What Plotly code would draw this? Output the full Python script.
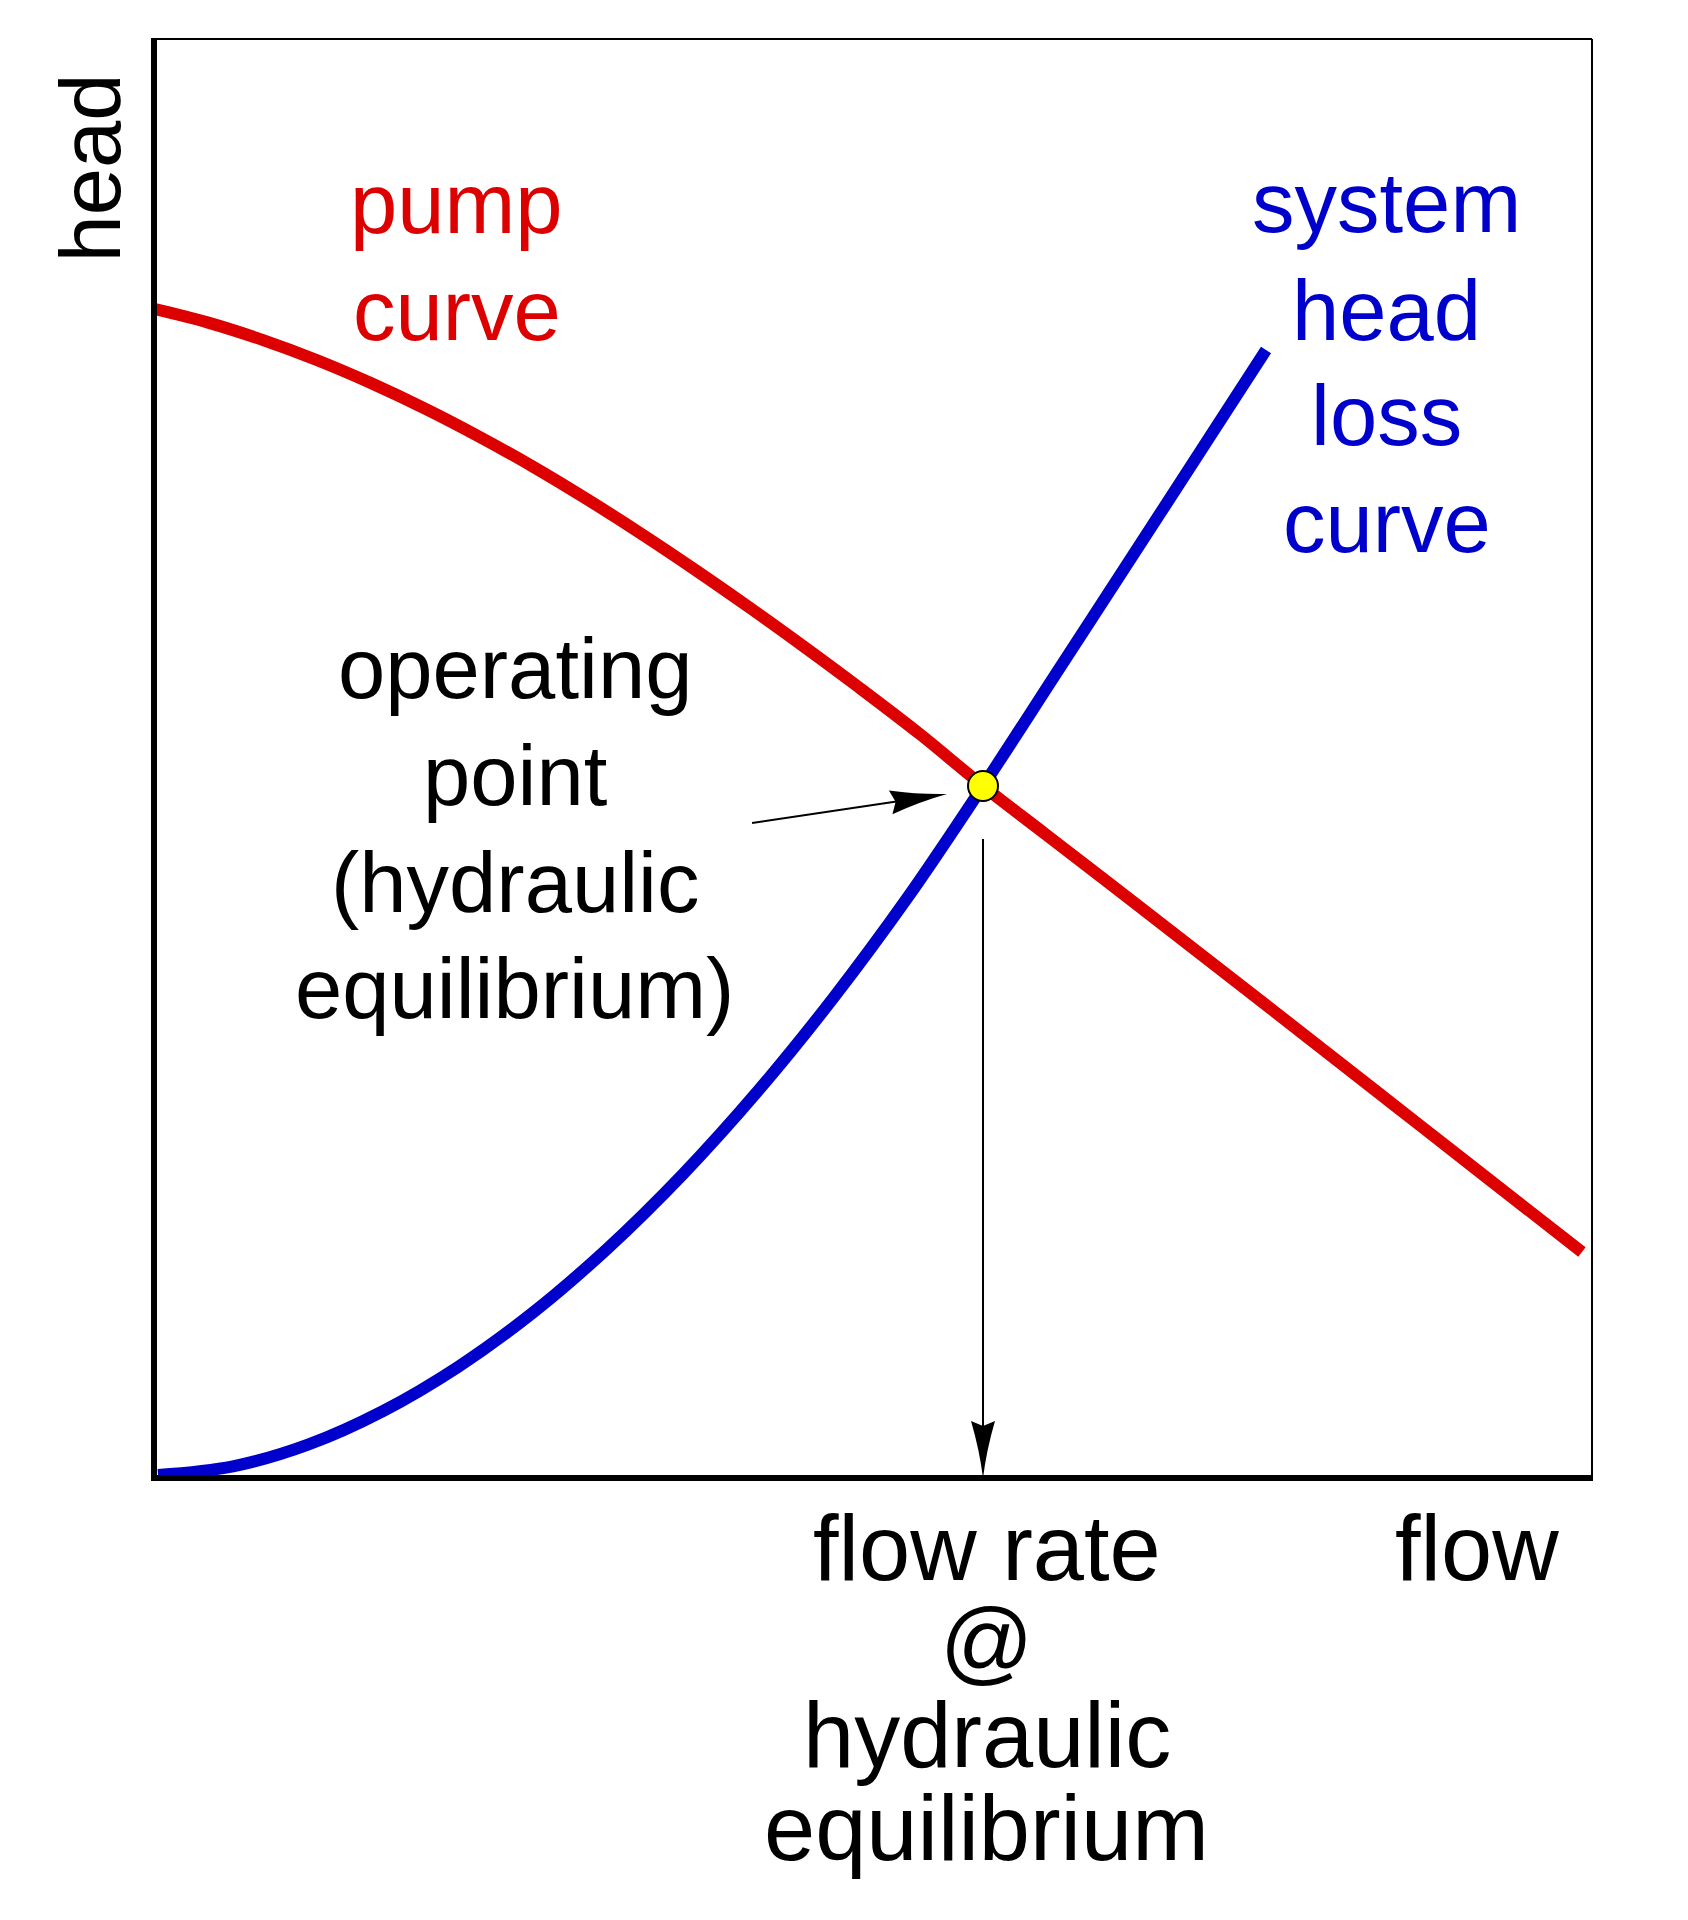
import math
import plotly.graph_objects as go

# ---- data (axis units: flow 0-10, head 0-10) ----
pump_flow = [0.000, 0.377, 0.754, 1.131, 1.508, 1.885, 2.262, 2.639, 3.016, 3.393, 3.770,
             4.147, 4.524, 4.901, 5.333, 5.765, 6.200, 6.800, 7.400, 8.000, 8.600,
             9.200, 9.930]
pump_head = [8.124, 8.029, 7.909, 7.769, 7.609, 7.431, 7.236, 7.026, 6.799, 6.559, 6.307,
             6.045, 5.774, 5.495, 5.164, 4.809, 4.474, 4.011, 3.546, 3.079, 2.610,
             2.140, 1.571]

system_flow = [0.028, 0.549, 1.071, 1.592, 2.114, 2.636, 3.157, 3.679, 4.200, 4.722, 5.243,
               5.765, 6.287, 6.809, 7.331, 7.733]
system_head = [0.021, 0.081, 0.232, 0.465, 0.772, 1.150, 1.598, 2.112, 2.690, 3.333, 4.037,
               4.809, 5.612, 6.414, 7.218, 7.839]

op_flow = 5.765
op_head = 4.809

# annotation arrow (from label to operating point) and drop line
label_arrow_tail = (4.159, 4.552)
label_arrow_tip = (5.515, 4.753)
drop_line_top = 4.44

RED = "#DD0000"
BLUE = "#0000CC"
FONT = "Liberation Sans, Arial, Helvetica, sans-serif"

# text labels in axis units: (text, x, y, color, size, angle)
labels = [
    ("pump", 2.107, 8.857, RED, 85, 0),
    ("curve", 2.107, 8.113, RED, 85, 0),
    ("system", 8.574, 8.866, BLUE, 85, 0),
    ("head", 8.574, 8.113, BLUE, 85, 0),
    ("loss", 8.574, 7.384, BLUE, 85, 0),
    ("curve", 8.574, 6.640, BLUE, 85, 0),
    ("operating", 2.510, 5.626, "black", 85, 0),
    ("point", 2.510, 4.882, "black", 85, 0),
    ("(hydraulic", 2.510, 4.138, "black", 85, 0),
    ("equilibrium)", 2.510, 3.402, "black", 85, 0),
    ("flow rate", 5.79, -0.487, "black", 92, 0),
    ("@", 5.79, -1.133, "black", 92, 0),
    ("hydraulic", 5.79, -1.787, "black", 92, 0),
    ("equilibrium", 5.79, -2.433, "black", 92, 0),
    ("flow", 9.200, -0.487, "black", 92, 0),
    ("head", -0.442, 9.103, "black", 85, -90),
]

X_RANGE = [0, 10]
Y_RANGE = [0, 10]

W, H = 1688, 1920
# page body adds an 8px offset
M_L, M_T = 146, 31
PLOT_W, PLOT_H = 1438, 1439
M_R = W - M_L - PLOT_W
M_B = H - M_T - PLOT_H

fig = go.Figure()

fig.add_trace(go.Scatter(x=pump_flow, y=pump_head, mode="lines",
                         line=dict(color=RED, width=12, shape="spline", smoothing=1.0),
                         hoverinfo="skip"))
fig.add_trace(go.Scatter(x=system_flow, y=system_head, mode="lines",
                         line=dict(color=BLUE, width=12, shape="spline", smoothing=1.0),
                         hoverinfo="skip"))


def arrowhead_path(angle_deg, L=57.0, Wd=24.0, notch=5.0):
    a = math.radians(angle_deg)
    ca, sa = math.cos(a), math.sin(a)

    def r(x, y):
        return f"{x * ca - y * sa:.2f},{x * sa + y * ca:.2f}"
    hw = Wd / 2
    return (f"M {r(0, 0)} Q {r(-L * 0.5, hw * 0.3)} {r(-L, hw)} L {r(-L + notch, 0)} "
            f"L {r(-L, -hw)} Q {r(-L * 0.5, -hw * 0.3)} {r(0, 0)} Z")


shapes = []
# frame: thin top/right, thick left/bottom
shapes.append(dict(type="line", xref="paper", yref="paper", x0=0, x1=1, y0=1, y1=1,
                   line=dict(color="black", width=2)))
shapes.append(dict(type="line", xref="paper", yref="paper", x0=1, x1=1, y0=0, y1=1,
                   line=dict(color="black", width=2)))
shapes.append(dict(type="line", xref="paper", yref="paper", x0=0, x1=0, y0=-0.002, y1=1.0007,
                   line=dict(color="black", width=6)))
shapes.append(dict(type="line", xref="paper", yref="paper", x0=-0.002, x1=1.0007, y0=0, y1=0,
                   line=dict(color="black", width=6)))

# label arrow shaft + head
dxl = label_arrow_tip[0] - label_arrow_tail[0]
dyl = label_arrow_tip[1] - label_arrow_tail[1]
shapes.append(dict(type="line", xref="x", yref="y",
                   x0=label_arrow_tail[0], y0=label_arrow_tail[1],
                   x1=label_arrow_tip[0] - 0.2, y1=label_arrow_tip[1] - 0.2 * dyl / dxl,
                   line=dict(color="black", width=2)))
ang = math.degrees(math.atan2(dyl, dxl))
shapes.append(dict(type="path", xref="x", yref="y", xsizemode="pixel", ysizemode="pixel",
                   xanchor=label_arrow_tip[0], yanchor=label_arrow_tip[1],
                   path=arrowhead_path(ang), fillcolor="black", line=dict(width=0)))

# drop line to flow axis
shapes.append(dict(type="line", xref="x", yref="y", x0=op_flow, x1=op_flow,
                   y0=drop_line_top, y1=0.3, line=dict(color="black", width=2)))
shapes.append(dict(type="path", xref="x", yref="y", xsizemode="pixel", ysizemode="pixel",
                   xanchor=op_flow, yanchor=0,
                   path=arrowhead_path(-90), fillcolor="black", line=dict(width=0)))

fig.add_trace(go.Scatter(x=[op_flow], y=[op_head], mode="markers",
                         marker=dict(size=30, color="#FFFF00", line=dict(color="black", width=2)),
                         hoverinfo="skip"))

annotations = []
for text, x, y, color, size, angle in labels:
    px = (x - X_RANGE[0]) / (X_RANGE[1] - X_RANGE[0])
    py = (y - Y_RANGE[0]) / (Y_RANGE[1] - Y_RANGE[0])
    annotations.append(dict(text=text, x=px, y=py, xref="paper", yref="paper", showarrow=False,
                            xanchor="center", yanchor="middle", textangle=angle,
                            font=dict(family=FONT, size=size, color=color)))

fig.update_layout(
    width=W, height=H,
    margin=dict(l=M_L, r=M_R, t=M_T, b=M_B),
    paper_bgcolor="white", plot_bgcolor="white",
    showlegend=False,
    shapes=shapes,
    annotations=annotations,
    xaxis=dict(range=X_RANGE, showgrid=False, zeroline=False, showticklabels=False,
               ticks="", showline=False, fixedrange=True),
    yaxis=dict(range=Y_RANGE, showgrid=False, zeroline=False, showticklabels=False,
               ticks="", showline=False, fixedrange=True),
)

fig.write_html("out.html")
